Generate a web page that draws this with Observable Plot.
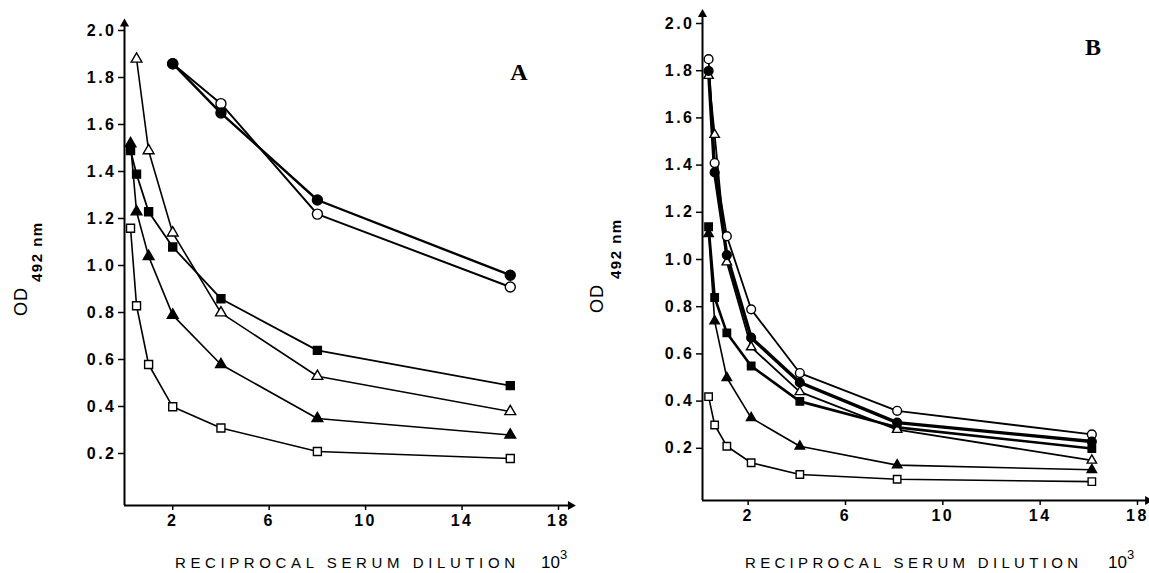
<!DOCTYPE html>
<html><head><meta charset="utf-8">
<script src="https://cdn.jsdelivr.net/npm/d3@7"></script>
<script src="https://cdn.jsdelivr.net/npm/@observablehq/plot@0.6"></script>
<style>
body{margin:0;background:#fff;}
#wrap{position:relative;width:1149px;height:573px;overflow:hidden;background:#fff;}
#wrap svg{position:absolute;top:0;overflow:visible;}
</style></head><body><div id="wrap"></div>
<script>
// ---- ticks ----
const xTicks = [2, 6, 10, 14, 18];
const yTicks = [0.2, 0.4, 0.6, 0.8, 1.0, 1.2, 1.4, 1.6, 1.8, 2.0];

// ---- Panel A (x = reciprocal dilution / 1000, y = OD492) ----
const aOpenCircleX = [2, 4, 8, 16];
const aOpenCircleY = [1.88, 1.71, 1.24, 0.93];
const aFilledCircleX = [2, 4, 8, 16];
const aFilledCircleY = [1.88, 1.67, 1.30, 0.98];
const aOpenTriangleX = [0.5, 1, 2, 4, 8, 16];
const aOpenTriangleY = [1.90, 1.51, 1.16, 0.82, 0.55, 0.40];
const aFilledSquareX = [0.25, 0.5, 1, 2, 4, 8, 16];
const aFilledSquareY = [1.51, 1.41, 1.25, 1.10, 0.88, 0.66, 0.51];
const aFilledTriangleX = [0.25, 0.5, 1, 2, 4, 8, 16];
const aFilledTriangleY = [1.54, 1.25, 1.06, 0.81, 0.60, 0.37, 0.30];
const aOpenSquareX = [0.25, 0.5, 1, 2, 4, 8, 16];
const aOpenSquareY = [1.18, 0.85, 0.60, 0.42, 0.33, 0.23, 0.20];

// ---- Panel B ----
const bX = [0.25, 0.5, 1, 2, 4, 8, 16];
const bOpenCircleY = [1.87, 1.43, 1.12, 0.81, 0.54, 0.38, 0.28];
const bFilledCircleY = [1.82, 1.39, 1.04, 0.69, 0.50, 0.33, 0.25];
const bOpenTriangleY = [1.80, 1.55, 1.01, 0.65, 0.46, 0.30, 0.17];
const bFilledSquareY = [1.16, 0.86, 0.71, 0.57, 0.42, 0.31, 0.22];
const bFilledTriangleY = [1.13, 0.76, 0.52, 0.35, 0.23, 0.15, 0.13];
const bOpenSquareY = [0.44, 0.32, 0.23, 0.16, 0.11, 0.09, 0.08];

const rows = (xs, ys) => xs.map((x, i) => ({x, y: ys[i]}));

const seriesA = [
  {data: rows(aOpenCircleX, aOpenCircleY), symbol: "circle", filled: false, w: 2, r: 5},
  {data: rows(aFilledCircleX, aFilledCircleY), symbol: "circle", filled: true, w: 2.4, r: 5},
  {data: rows(aOpenSquareX, aOpenSquareY), symbol: "square", filled: false, w: 1.6, r: 4.5},
  {data: rows(aFilledTriangleX, aFilledTriangleY), symbol: "triangle", filled: true, w: 1.6, r: 4},
  {data: rows(aOpenTriangleX, aOpenTriangleY), symbol: "triangle", filled: false, w: 1.6, r: 4},
  {data: rows(aFilledSquareX, aFilledSquareY), symbol: "square", filled: true, w: 1.8, r: 4.5}
];
const seriesB = [
  {data: rows(bX, bOpenSquareY), symbol: "square", filled: false, w: 1.6, r: 4.2},
  {data: rows(bX, bFilledTriangleY), symbol: "triangle", filled: true, w: 1.6, r: 3.5},
  {data: rows(bX, bFilledSquareY), symbol: "square", filled: true, w: 2.6, r: 4.2},
  {data: rows(bX, bOpenTriangleY), symbol: "triangle", filled: false, w: 1.8, r: 3.5},
  {data: rows(bX, bOpenCircleY), symbol: "circle", filled: false, w: 1.8, r: 4.4},
  {data: rows(bX, bFilledCircleY), symbol: "circle", filled: true, w: 3.4, r: 4.4}
];

function panel(cfg) {
  const marks = [
    Plot.ruleY([0], {x1: 0, x2: cfg.xEnd, strokeWidth: 2}),
    Plot.ruleX([0], {y1: 0, y2: cfg.yEnd, strokeWidth: 2}),
    Plot.dot([{x: cfg.xEnd, y: 0}], {x: "x", y: "y", symbol: "triangle", fill: "black", stroke: "none", r: 3.4, rotate: 90}),
    Plot.dot([{x: 0, y: cfg.yEnd}], {x: "x", y: "y", symbol: "triangle", fill: "black", stroke: "none", r: 3.4}),
    Plot.axisX({ticks: xTicks, tickSize: 5, tickPadding: 4, strokeWidth: 1.5, label: null, dx: cfg.xdx,
                fontSize: 16, fontWeight: "bold", tickFormat: d => String(d)}),
    Plot.axisY({ticks: yTicks, tickSize: 6, tickPadding: 2, strokeWidth: 1.5, dy: -5, label: null,
                fontSize: 16, fontWeight: "bold", tickFormat: d => d.toFixed(1)})
  ];
  for (const s of cfg.series) marks.push(Plot.line(s.data, {x: "x", y: "y", stroke: "black", strokeWidth: s.w}));
  for (const s of cfg.series) marks.push(Plot.dot(s.data, {x: "x", y: "y", symbol: s.symbol, r: s.r,
      fill: s.filled ? "black" : "white", stroke: "black", strokeWidth: 1.4}));
  const svg = Plot.plot({
    width: cfg.width, height: 573,
    marginLeft: cfg.ml, marginRight: cfg.mr, marginTop: cfg.mt, marginBottom: cfg.mb,
    x: {domain: [0, 18], label: null}, y: {domain: [0, 2], label: null},
    style: {fontFamily: "'Liberation Sans', Arial, sans-serif", fontSize: "16px", fontWeight: "bold",
            letterSpacing: "2.5px", color: "black", background: "white", overflow: "visible"},
    marks
  });
  svg.style.left = cfg.left + "px";
  const g = d3.select(svg);
  // y axis title OD 492 nm
  const t = g.append("text").attr("transform", `translate(${cfg.odX},${cfg.odY}) rotate(-90)`)
    .attr("text-anchor", "start").attr("fill", "black").style("letter-spacing", "1px");
  t.append("tspan").text("OD").attr("font-size", 18).attr("font-weight", "normal").attr("fill", "black");
  t.append("tspan").text("492 nm").attr("font-size", 15).attr("font-weight", "bold").attr("fill", "black")
    .attr("dx", 5).attr("dy", cfg.subDy).style("letter-spacing", "1.5px");
  // x axis title
  g.append("text").attr("x", cfg.tx).attr("y", 568).attr("text-anchor", "start")
    .attr("textLength", cfg.tLen).attr("lengthAdjust", "spacing").attr("fill", "black")
    .attr("font-size", 15).attr("font-weight", "normal").style("letter-spacing", "0px")
    .text("RECIPROCAL SERUM DILUTION");
  const e = g.append("text").attr("x", cfg.ex).attr("y", 568).attr("font-size", 17).attr("text-anchor", "start")
    .attr("fill", "black").attr("font-weight", "normal").style("letter-spacing", "0px");
  e.append("tspan").text("10");
  e.append("tspan").text("3").attr("font-size", 13).attr("dy", -9);
  // panel letter
  g.append("text").attr("x", cfg.lx).attr("y", cfg.ly).attr("text-anchor", "middle").attr("fill", "black")
    .attr("font-family", "'Liberation Serif', serif").attr("font-size", 24).attr("font-weight", "bold")
    .style("letter-spacing", "0px").text(cfg.letter);
  document.getElementById("wrap").appendChild(svg);
}

panel({series: seriesA, left: 0, width: 580, ml: 124, mr: 22, mt: 35, mb: 68, xEnd: 18.5, yEnd: 2.05, xdx: 0,
       odX: 27, odY: 316, subDy: 15, tx: 175, tLen: 340, ex: 541, lx: 519, ly: 80, letter: "A"});
panel({series: seriesB, left: 580, width: 569, ml: 122, mr: 9, mt: 28, mb: 73, xEnd: 18.3, yEnd: 2.06, xdx: -3,
       odX: 23, odY: 313, subDy: 18, tx: 165, tLen: 333, ex: 528, lx: 513, ly: 55, letter: "B"});
</script></body></html>
